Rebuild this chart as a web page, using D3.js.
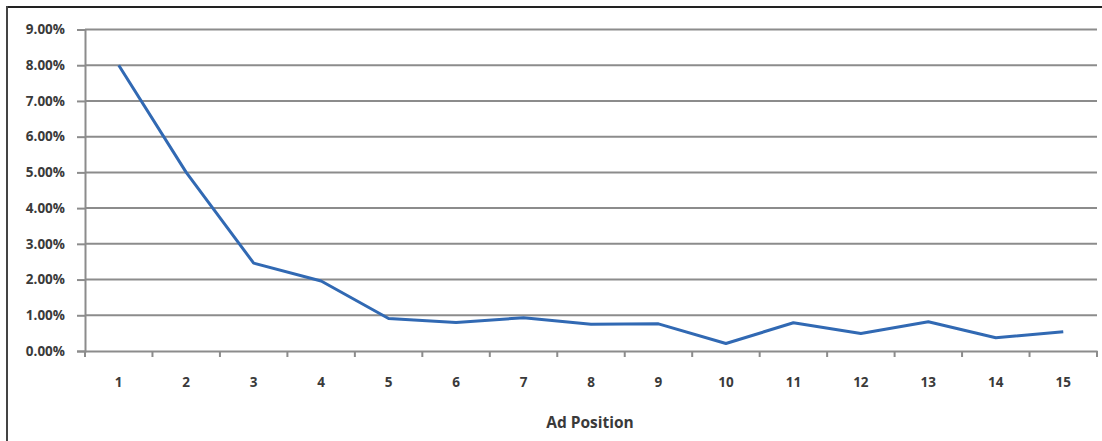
<!DOCTYPE html>
<html><head><meta charset="utf-8">
<script src="https://cdn.jsdelivr.net/npm/d3@7"></script>
<style>body{margin:0;background:#fff}svg{display:block}</style>
</head><body>
<svg id="c" width="1102" height="441"></svg>
<script>
const positions = [1,2,3,4,5,6,7,8,9,10,11,12,13,14,15];
const ctr = [0.080,0.050,0.0246,0.0196,0.0091,0.0080,0.0093,0.0075,0.0076,0.0021,0.0079,0.0049,0.0082,0.0037,0.0054];
const yTicks = [0,0.01,0.02,0.03,0.04,0.05,0.06,0.07,0.08,0.09];
const xTitle = "Ad Position";

(function(){
const svg = d3.select("#c");
const mLeft = 85, mRight = 1097, mTop = 29.5, mBottom = 351;
const x = d3.scaleBand().domain(positions).range([mLeft, mRight]);
const y = d3.scaleLinear().domain([0, 0.09]).range([mBottom, mTop]);
const font = "'Open Sans', Lato, sans-serif";
const txt = "#3a3a3a";

// frame
svg.append("line").attr("x1",6.5).attr("x2",1102).attr("y1",7).attr("y2",7).attr("stroke","#222").attr("stroke-width",2);
svg.append("line").attr("x1",7).attr("x2",7).attr("y1",6).attr("y2",441).attr("stroke","#444").attr("stroke-width",2);

// gridlines
svg.append("g").selectAll("line").data(yTicks.filter(d=>d>0)).join("line")
  .attr("x1",mLeft).attr("x2",mRight).attr("y1",d=>y(d)).attr("y2",d=>y(d))
  .attr("stroke","#8c8c8c").attr("stroke-width",2);

// y axis
const ya = svg.append("g").attr("transform",`translate(${mLeft},0)`)
  .call(d3.axisLeft(y).tickValues(yTicks).tickFormat(d3.format(".2%")).tickSize(8).tickPadding(12));
ya.select(".domain").attr("stroke","#8c8c8c").attr("stroke-width",2);
ya.selectAll(".tick line").attr("stroke","#8c8c8c").attr("stroke-width",2);
ya.selectAll("text").attr("font-family",font).attr("font-weight","bold").attr("font-size",13.5).attr("fill",txt);

// x axis
const xa = svg.append("g").attr("transform",`translate(0,${mBottom})`)
  .call(d3.axisBottom(x).tickSize(0).tickPadding(26));
xa.select(".domain").attr("stroke","#8c8c8c").attr("stroke-width",2);
xa.selectAll("text").attr("font-family",font).attr("font-weight","bold").attr("font-size",13.5).attr("fill",txt);
// tick marks at band boundaries
const bounds = positions.map(p=>x(p)).concat([mRight]);
svg.append("g").selectAll("line").data(bounds).join("line")
  .attr("x1",d=>d).attr("x2",d=>d).attr("y1",mBottom).attr("y2",mBottom+6)
  .attr("stroke","#8c8c8c").attr("stroke-width",2);

// line
const line = d3.line().x((d,i)=>x(positions[i])+x.bandwidth()/2).y(d=>y(d));
svg.append("path").datum(ctr).attr("d",line).attr("fill","none")
  .attr("stroke","#3169b3").attr("stroke-width",3).attr("stroke-linejoin","round");

// title
svg.append("text").attr("x",590).attr("y",428).attr("text-anchor","middle")
  .attr("font-family",font).attr("font-weight","bold").attr("font-size",15.5).attr("fill",txt).text(xTitle);
})();
</script>
</body></html>
